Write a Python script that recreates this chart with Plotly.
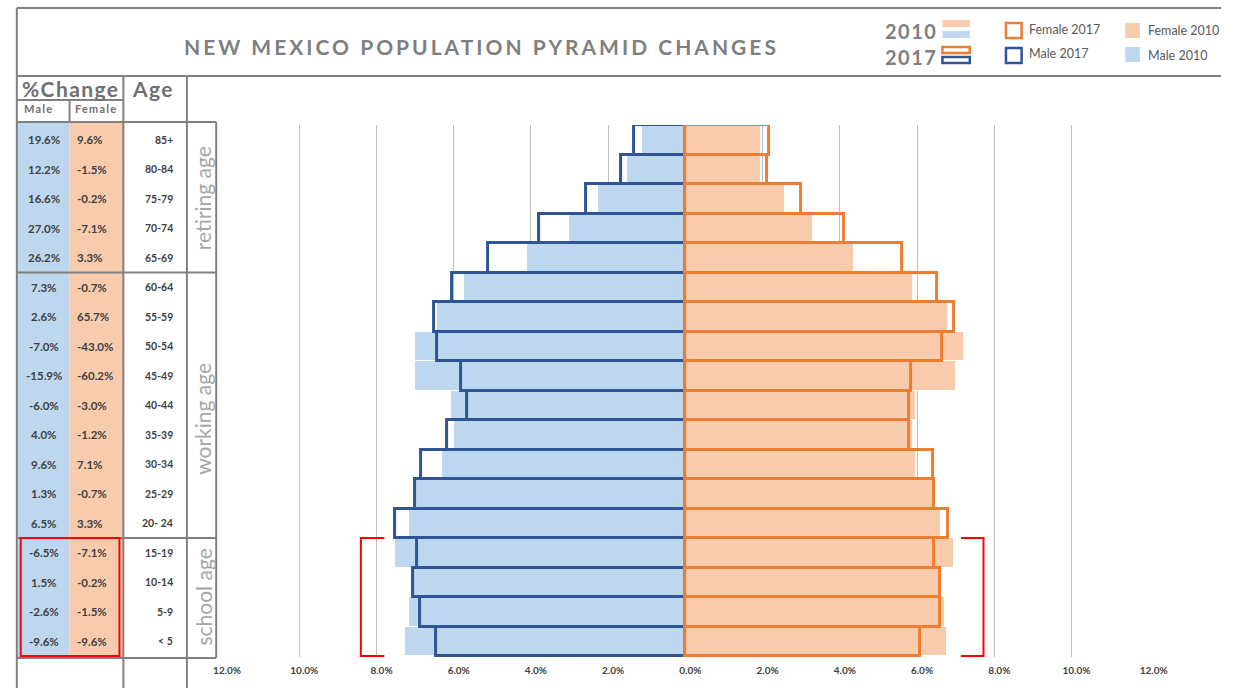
import plotly.graph_objects as go

# Age groups, top of the pyramid first
ages = ["85+", "80-84", "75-79", "70-74", "65-69", "60-64", "55-59", "50-54", "45-49",
        "40-44", "35-39", "30-34", "25-29", "20- 24", "15-19", "10-14", "5-9", "< 5"]

# Share of total population (%) by age group
male_2017 = [1.32, 1.67, 2.58, 3.80, 5.11, 6.04, 6.51, 6.42, 5.81,
             5.66, 6.17, 6.84, 6.99, 7.52, 6.96, 7.05, 6.86, 6.47]
male_2010 = [1.11, 1.52, 2.25, 3.01, 4.10, 5.72, 6.42, 7.01, 6.99,
             6.08, 6.00, 6.31, 7.01, 7.16, 7.51, 7.10, 7.15, 7.27]
female_2017 = [2.16, 2.11, 2.99, 4.11, 5.61, 6.51, 6.95, 6.66, 5.84,
               5.79, 5.80, 6.41, 6.43, 6.80, 6.43, 6.60, 6.60, 6.08]
female_2010 = [1.96, 1.96, 2.59, 3.32, 4.36, 5.91, 6.80, 7.22, 7.00,
               5.98, 5.90, 5.98, 6.49, 6.63, 6.97, 6.63, 6.73, 6.77]

# Percent change columns of the side table
male_change = ["19.6%", "12.2%", "16.6%", "27.0%", "26.2%", "7.3%", "2.6%", "-7.0%", "-15.9%",
               "-6.0%", "4.0%", "9.6%", "1.3%", "6.5%", "-6.5%", "1.5%", "-2.6%", "-9.6%"]
female_change = ["9.6%", "-1.5%", "-0.2%", "-7.1%", "3.3%", "-0.7%", "65.7%", "-43.0%", "-60.2%",
                 "-3.0%", "-1.2%", "7.1%", "-0.7%", "3.3%", "-7.1%", "-0.2%", "-1.5%", "-9.6%"]

# Life-stage bands: label and number of age rows
groups = [("retiring age", 5), ("working age", 9), ("school age", 4)]

tick_vals = [-12, -10, -8, -6, -4, -2, 0, 2, 4, 6, 8, 10, 12]
tick_text = [f"{abs(v):.1f}%" for v in tick_vals]

W, H = 1240, 688
FONT = "Lato"
BLUE_FILL, ORANGE_FILL = "#bdd7ee", "#f8cbad"
BLUE_LINE, ORANGE_LINE = "#2f5597", "#ed7d31"
GRAY = "#808080"
TXT = "#404040"


def X(px):
    return px / W


def Y(py):
    return 1 - py / H


fig = go.Figure()
fig.add_trace(go.Bar(y=ages, x=[-v for v in male_2010], orientation="h", name="Male 2010",
                     marker=dict(color=BLUE_FILL, line=dict(color="white", width=1))))
fig.add_trace(go.Bar(y=ages, x=female_2010, orientation="h", name="Female 2010",
                     marker=dict(color=ORANGE_FILL, line=dict(color="white", width=1))))
fig.add_trace(go.Bar(y=ages, x=[-v for v in male_2017], orientation="h", name="Male 2017",
                     marker=dict(color="rgba(0,0,0,0)", line=dict(color=BLUE_LINE, width=3))))
fig.add_trace(go.Bar(y=ages, x=female_2017, orientation="h", name="Female 2017",
                     marker=dict(color="rgba(0,0,0,0)", line=dict(color=ORANGE_LINE, width=3))))

shapes = []


def hline(x0, x1, y, color=GRAY, w=2):
    shapes.append(dict(type="line", xref="paper", yref="paper", x0=X(x0), x1=X(x1),
                       y0=Y(y), y1=Y(y), line=dict(color=color, width=w)))


def vline(x, y0, y1, color=GRAY, w=2):
    shapes.append(dict(type="line", xref="paper", yref="paper", x0=X(x), x1=X(x),
                       y0=Y(y0), y1=Y(y1), line=dict(color=color, width=w)))


def rect(x0, y0, x1, y1, fill=None, line=None, w=0):
    shapes.append(dict(type="rect", xref="paper", yref="paper", x0=X(x0), x1=X(x1),
                       y0=Y(y0), y1=Y(y1), fillcolor=fill or "rgba(0,0,0,0)",
                       line=dict(color=line or "rgba(0,0,0,0)", width=w),
                       layer="below" if fill and not line else "above"))


# Coloured change columns
rect(8, 122, 62, 658, fill=BLUE_FILL)
rect(62, 122, 117, 658, fill=ORANGE_FILL)

# Outer frame and header row
hline(8, W, 8)
vline(8, 8, H)
hline(8, W, 76)
# Table grid
hline(8, 117, 100)
vline(62, 100, 122)
vline(117, 76, H)
vline(182, 76, H)
hline(8, 212, 122)
vline(212, 122, 658)
hline(8, 212, 658)

# Band separators follow the age rows on the y axis
row_edge = -0.5
for label, n in groups[:-1]:
    row_edge += n
    shapes.append(dict(type="line", xref="paper", yref="y", x0=X(8), x1=X(212),
                       y0=row_edge, y1=row_edge, line=dict(color=GRAY, width=2)))

# School-age highlight
school_top = len(ages) - groups[-1][1] - 0.5
school_bot = len(ages) - 0.5
shapes.append(dict(type="rect", xref="paper", yref="y", x0=X(12), x1=X(113),
                   y0=school_top, y1=school_bot, line=dict(color="#ff0000", width=2)))
shapes.append(dict(type="path", xref="paper", yref="y",
                   path=f"M {X(384)},{school_top} L {X(360)},{school_top} L {X(360)},{school_bot} L {X(384)},{school_bot}",
                   line=dict(color="#ff0000", width=2)))
shapes.append(dict(type="path", xref="paper", yref="y",
                   path=f"M {X(974)},{school_top} L {X(997)},{school_top} L {X(997)},{school_bot} L {X(974)},{school_bot}",
                   line=dict(color="#ff0000", width=2)))

# Legend swatches
rect(955, 20, 983, 27, fill=ORANGE_FILL)
rect(955, 31, 983, 38, fill=BLUE_FILL)
rect(955, 47, 983, 53, line=ORANGE_LINE, w=2.5)
rect(955, 57, 983, 63, line=BLUE_LINE, w=2.5)
rect(1020, 23, 1036, 38, line=ORANGE_LINE, w=2.5)
rect(1020, 48, 1036, 63, line=BLUE_LINE, w=2.5)
rect(1142, 23, 1157, 38, fill=ORANGE_FILL)
rect(1142, 47, 1157, 62, fill=BLUE_FILL)

ann = []


def text(x, y, s, size, color=GRAY, bold=False, anchor="center", yref="paper", angle=0,
         spacing=None, yshift=0):
    if spacing:
        s = f'<span style="letter-spacing:{spacing}px">{s}</span>'
    ann.append(dict(x=X(x), y=Y(y) if yref == "paper" else y, xref="paper", yref=yref, text=s,
                    showarrow=False, xanchor=anchor, yanchor="middle", textangle=angle, yshift=yshift,
                    font=dict(family=FONT, size=size, color=color, weight="bold" if bold else "normal")))


text(483, 46, "NEW MEXICO POPULATION PYRAMID CHANGES", 21, color="#7f7f7f", bold=True, spacing=3.0)
# Year keys share one two-line block
text(951, 43.5, '<span style="letter-spacing:1.5px">2010</span><br>'
                '<span style="letter-spacing:1.5px">2017</span>',
     20, color="#7f7f7f", bold=True, anchor="right")
text(1042, 30, "Female 2017", 12.5, color="#595959", anchor="left")
text(1042, 53, "Male 2017", 12.5, color="#595959", anchor="left")
text(1163, 31, "Female 2010", 12.5, color="#595959", anchor="left")
text(1163, 55, "Male 2010", 12.5, color="#595959", anchor="left")

text(63, 88, "%Change", 21, color="#6f6f6f", bold=True, spacing=1.4)
text(147, 88, "Age", 21, color="#6f6f6f", bold=True, spacing=1.4)
text(30, 109, "Male", 11, color="#6f6f6f", bold=True, spacing=1.2)
text(89, 109, "Female", 11, color="#6f6f6f", bold=True, spacing=1.2)

for age, mc, fc in zip(ages, male_change, female_change):
    text(36, age, mc, 11.5, color=TXT, bold=True, yref="y")
    text(68, age, fc, 11.5, color=TXT, bold=True, anchor="left", yref="y")
    text(170, age, age, 10.5, color=TXT, bold=True, anchor="right", yref="y")

# Rotated band labels; the tall middle band sits its label a little low
band_shift = [0, -14, 0]
start = 0
for (label, n), dy in zip(groups, band_shift):
    text(198, start + (n - 1) / 2, label, 21, color="#a6a6a6", yref="y", angle=-90, yshift=dy)
    start += n

fig.update_layout(
    width=W, height=H, autosize=False,
    margin=dict(l=0, r=0, t=0, b=0),
    paper_bgcolor="white", plot_bgcolor="white",
    barmode="overlay", bargap=0,
    showlegend=False,
    shapes=shapes, annotations=ann,
    xaxis=dict(domain=[X(218), X(1166)], range=[-12, 12], tickvals=tick_vals, ticktext=tick_text,
               showgrid=True, gridcolor="#bfbfbf", gridwidth=1, zeroline=False, showline=False,
               ticks="", ticklabelshift=5, ticklabelstandoff=6,
               tickfont=dict(family=FONT, size=10, color=TXT, weight="bold")),
    yaxis=dict(domain=[Y(657), Y(125)], categoryorder="array", categoryarray=ages,
               autorange="reversed", showticklabels=False, showgrid=False, zeroline=False,
               showline=False, ticks=""),
)

fig.write_html("out.html")
